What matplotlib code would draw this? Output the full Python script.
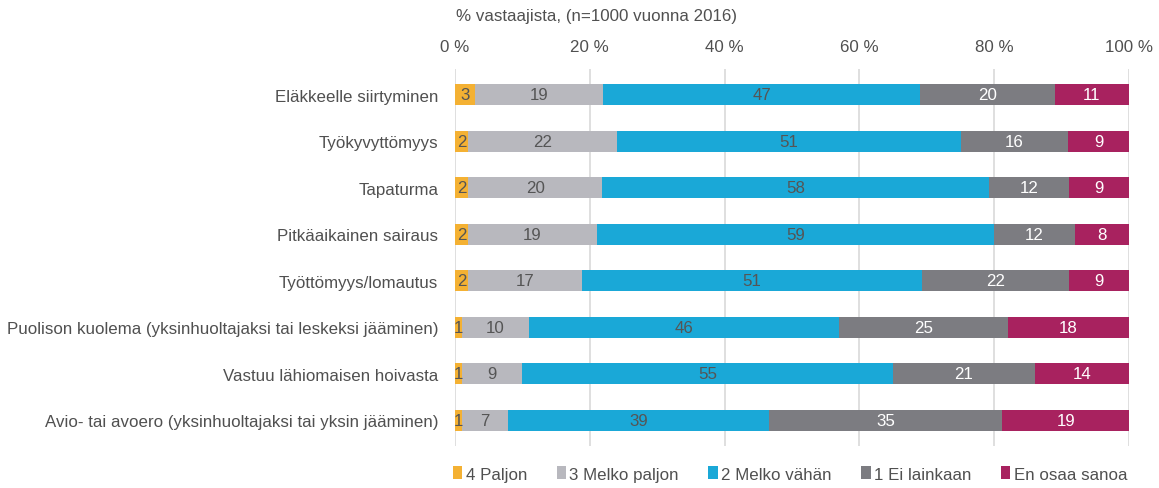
import matplotlib
matplotlib.use("Agg")
import matplotlib.pyplot as plt
import numpy as np

plt.rcParams['font.family'] = ['Liberation Sans', 'DejaVu Sans']

categories = [
    "Eläkkeelle siirtyminen",
    "Työkyvyttömyys",
    "Tapaturma",
    "Pitkäaikainen sairaus",
    "Työttömyys/lomautus",
    "Puolison kuolema (yksinhuoltajaksi tai leskeksi jääminen)",
    "Vastuu lähiomaisen hoivasta",
    "Avio- tai avoero (yksinhuoltajaksi tai yksin jääminen)",
]
paljon = [3, 2, 2, 2, 2, 1, 1, 1]
melko_paljon = [19, 22, 20, 19, 17, 10, 9, 7]
melko_vahan = [47, 51, 58, 59, 51, 46, 55, 39]
ei_lainkaan = [20, 16, 12, 12, 22, 25, 21, 35]
en_osaa = [11, 9, 9, 8, 9, 18, 14, 19]
series_names = ["4 Paljon", "3 Melko paljon", "2 Melko vähän", "1 Ei lainkaan", "En osaa sanoa"]
xtick_labels = ["0 %", "20 %", "40 %", "60 %", "80 %", "100 %"]
title = "% vastaajista, (n=1000 vuonna 2016)"

colors = ["#F4B133", "#B8B8BE", "#1AA8D7", "#7C7C81", "#A8225F"]
text_colors = ["#555555", "#555555", "#555555", "white", "white"]

data = np.array([paljon, melko_paljon, melko_vahan, ei_lainkaan, en_osaa], dtype=float)
shares = data / data.sum(axis=0) * 100

FS = 12.2
fig = plt.figure(figsize=(11.59, 4.89), dpi=100)
ax = fig.add_axes([455/1159, 1 - 447/489, (1129 - 455)/1159, (447 - 70)/489])

y = np.arange(len(categories))
left = np.zeros(len(categories))
for i in range(len(series_names)):
    ax.barh(y, shares[i], left=left, height=0.45, color=colors[i],
            label=series_names[i], zorder=3)
    for j in range(len(categories)):
        cx = left[j] + shares[i][j] / 2
        ax.text(cx, y[j], f"{int(data[i][j])}", ha='center', va='center',
                color=text_colors[i], fontsize=FS, zorder=4)
    left += shares[i]

ax.set_xlim(0, 100)
ax.set_ylim(len(categories) - 0.45, -0.55)
ax.set_yticks(y)
ax.set_yticklabels(categories, fontsize=FS, color="#505050")
ax.set_xticks([0, 20, 40, 60, 80, 100])
ax.set_xticklabels(xtick_labels, fontsize=FS, color="#505050")
ax.xaxis.tick_top()
ax.tick_params(axis='x', length=0, pad=11)
ax.tick_params(axis='y', length=0, pad=12)
for s in ax.spines.values():
    s.set_visible(False)
ax.grid(axis='x', color="#D9D9D9", linewidth=1.2, zorder=0)

fig.text(456/1159, 1 - 17/489, title, ha='left', va='center', fontsize=FS, color="#505050")

handles, labels = ax.get_legend_handles_labels()
leg = fig.legend(handles, labels, loc='center', bbox_to_anchor=(790/1159, 1 - 475/489),
                 ncol=5, frameon=False, fontsize=FS, handlelength=0.55, handleheight=0.8,
                 handletextpad=0.2, columnspacing=1.75)
for t in leg.get_texts():
    t.set_color("#505050")

fig.savefig("out.png", dpi=100)
